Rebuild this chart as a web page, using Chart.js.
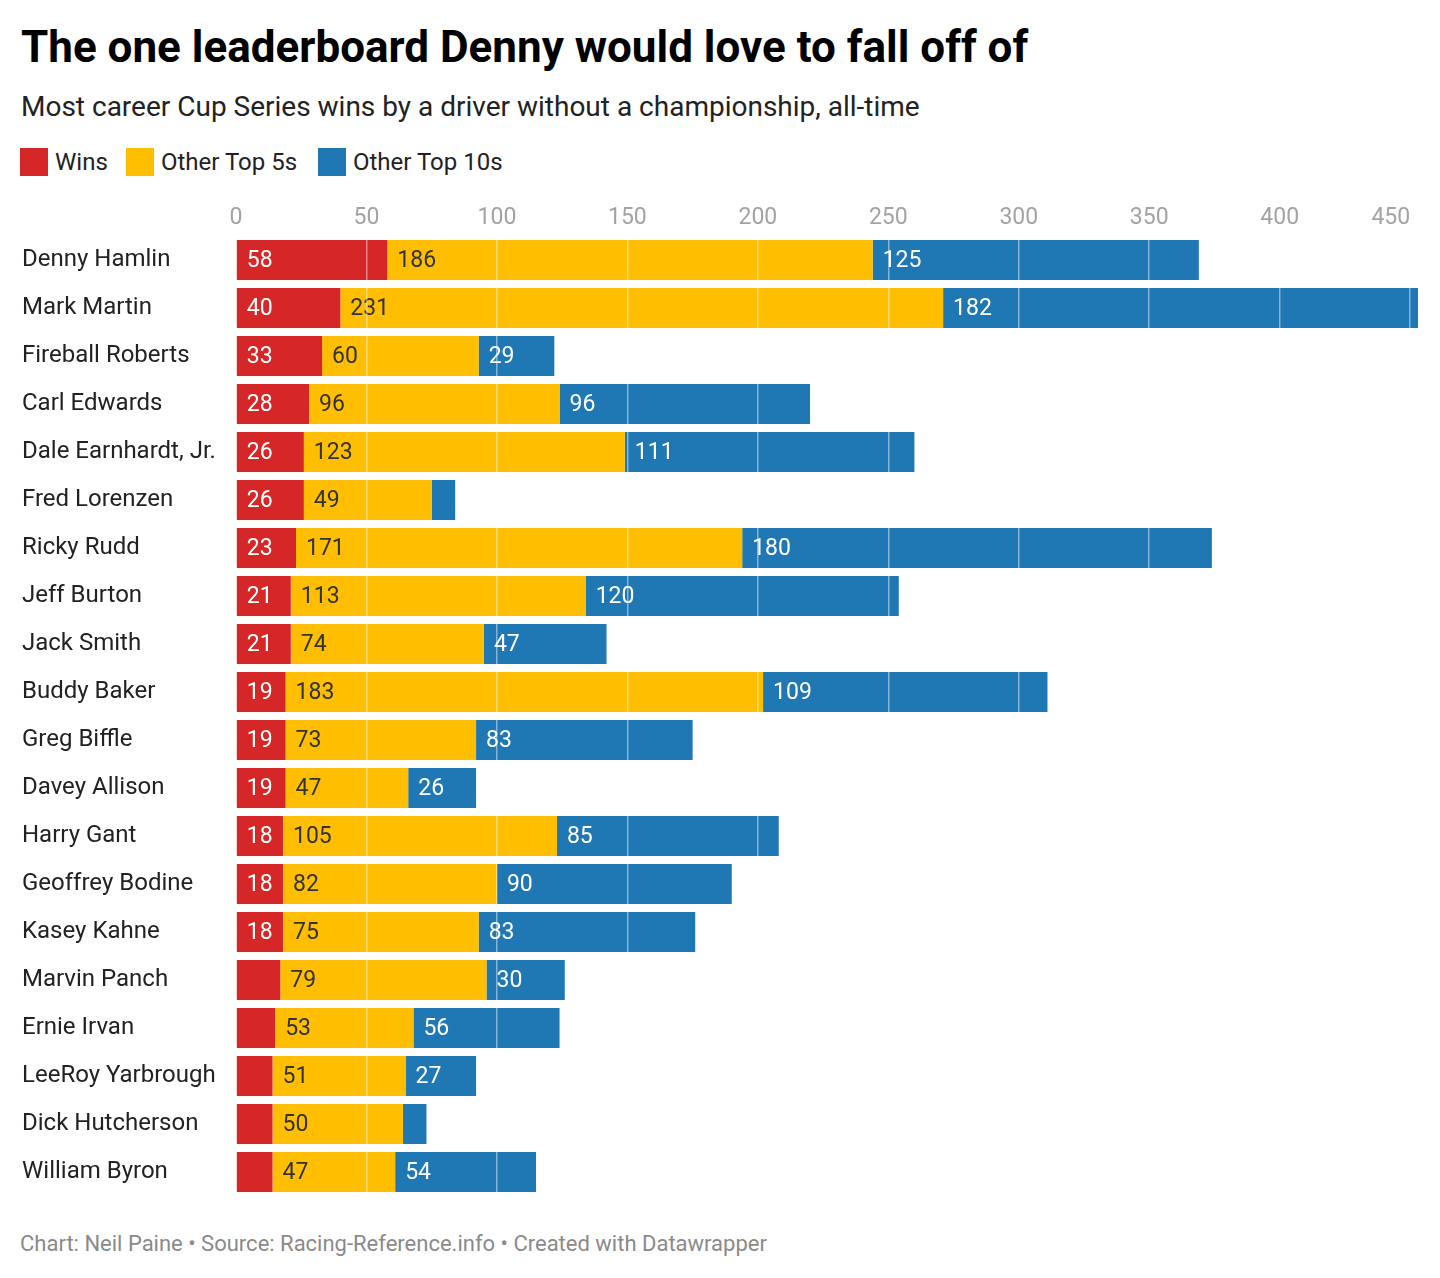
<!DOCTYPE html>
<html>
<head>
<meta charset="utf-8">
<script src="https://cdn.jsdelivr.net/npm/chart.js@4.4.1/dist/chart.umd.min.js"></script>
<style>
  html, body { margin: 0; padding: 0; background: #fff; }
  body { width: 1440px; height: 1278px; position: relative; overflow: hidden; font-family: Roboto, "Noto Sans", sans-serif; }
  .t { position: absolute; left: 21px; white-space: nowrap; line-height: 1; }
  #title { top: 25px; font-size: 44px; font-weight: 700; color: #000; }
  #subtitle { top: 93px; font-size: 28px; color: #222; }
  #legend { position: absolute; left: 20px; top: 148px; height: 28px; }
  .li { position: absolute; top: 0; height: 28px; }
  .sw { position: absolute; left: 0; top: 0; width: 28px; height: 28px; }
  .lt { position: absolute; left: 35px; top: 2px; font-size: 24px; line-height: 1; color: #222; white-space: nowrap; }
  #footer { top: 1233px; font-size: 22px; color: #8a8a8a; left: 20px; }
  #wrap { position: absolute; left: 0; top: 190px; width: 1440px; height: 1010px; }
</style>
</head>
<body>
<div id="title" class="t">The one leaderboard Denny would love to fall off of</div>
<div id="subtitle" class="t">Most career Cup Series wins by a driver without a championship, all-time</div>
<div id="legend"></div>
<div id="wrap"><canvas id="c"></canvas></div>
<div id="footer" class="t">Chart: Neil Paine • Source: Racing-Reference.info • Created with Datawrapper</div>
<script>
const drivers = ["Denny Hamlin","Mark Martin","Fireball Roberts","Carl Edwards","Dale Earnhardt, Jr.","Fred Lorenzen","Ricky Rudd","Jeff Burton","Jack Smith","Buddy Baker","Greg Biffle","Davey Allison","Harry Gant","Geoffrey Bodine","Kasey Kahne","Marvin Panch","Ernie Irvan","LeeRoy Yarbrough","Dick Hutcherson","William Byron"];
const wins      = [58, 40, 33, 28, 26, 26, 23, 21, 21, 19, 19, 19, 18, 18, 18, 17, 15, 14, 14, 14];
const otherTop5 = [186, 231, 60, 96, 123, 49, 171, 113, 74, 183, 73, 47, 105, 82, 75, 79, 53, 51, 50, 47];
const otherTop10= [125, 182, 29, 96, 111, 9, 180, 120, 47, 109, 83, 26, 85, 90, 83, 30, 56, 27, 9, 54];
const seriesNames = ["Wins", "Other Top 5s", "Other Top 10s"];
const seriesColors = ["#d62728", "#ffbf00", "#1f77b4"];
const labelColors = ["#ffffff", "#333333", "#ffffff"];
const tickStep = 50;

// legend
const legendX = [0, 106, 298];
const lg = document.getElementById('legend');
seriesNames.forEach((n, i) => {
  const d = document.createElement('div');
  d.className = 'li';
  d.style.left = legendX[i] + 'px';
  d.innerHTML = '<div class="sw" style="background:' + seriesColors[i] + '"></div><div class="lt">' + n + '</div>';
  lg.appendChild(d);
});

const totals = drivers.map((_, i) => wins[i] + otherTop5[i] + otherTop10[i]);
const xMax = Math.max(...totals);

const valueLabels = {
  id: 'valueLabels',
  afterDatasetsDraw(chart) {
    const ctx = chart.ctx;
    ctx.save();
    ctx.font = '23px Roboto, "Noto Sans", sans-serif';
    ctx.textBaseline = 'middle';
    ctx.textAlign = 'left';
    chart.data.datasets.forEach((ds, di) => {
      const meta = chart.getDatasetMeta(di);
      meta.data.forEach((el, i) => {
        const left = Math.min(el.base, el.x);
        const w = Math.abs(el.x - el.base);
        if (w < 46) return;
        ctx.fillStyle = labelColors[di];
        ctx.fillText(String(ds.data[i]), left + 10, el.y + 1);
      });
    });
    ctx.restore();
  }
};

const xTickLabels = {
  id: 'xTickLabels',
  afterDraw(chart) {
    const sc = chart.scales.x;
    const ctx = chart.ctx;
    ctx.save();
    ctx.font = '23px Roboto, "Noto Sans", sans-serif';
    ctx.fillStyle = '#a3a3a3';
    ctx.textBaseline = 'middle';
    const n = sc.ticks.length;
    sc.ticks.forEach((t, k) => {
      const px = sc.getPixelForValue(t.value);
      ctx.textAlign = (k === n - 1) ? 'right' : 'center';
      ctx.fillText(String(t.value), px, chart.chartArea.top - 18);
    });
    ctx.restore();
  }
};

new Chart(document.getElementById('c'), {
  type: 'bar',
  data: {
    labels: drivers,
    datasets: [
      { label: seriesNames[0], data: wins, backgroundColor: seriesColors[0] },
      { label: seriesNames[1], data: otherTop5, backgroundColor: seriesColors[1] },
      { label: seriesNames[2], data: otherTop10, backgroundColor: seriesColors[2] }
    ]
  },
  options: {
    indexAxis: 'y',
    responsive: true,
    maintainAspectRatio: false,
    animation: false,
    barPercentage: 40 / 48,
    categoryPercentage: 1,
    layout: { padding: { left: 22, right: 22, top: 0, bottom: 4 } },
    plugins: { legend: { display: false }, tooltip: { enabled: false }, title: { display: false } },
    scales: {
      x: {
        position: 'top',
        stacked: true,
        min: 0,
        max: xMax,
        afterBuildTicks(scale) {
          const ticks = [];
          for (let v = 0; v <= scale.max; v += tickStep) ticks.push({ value: v });
          scale.ticks = ticks;
        },
        afterFit(scale) { scale.height = 46; },
        ticks: { display: false, stepSize: tickStep },
        grid: { color: 'rgba(255,255,255,0.45)', lineWidth: 1.5, drawTicks: false, z: 1 },
        border: { display: false }
      },
      y: {
        stacked: true,
        afterFit(scale) { scale.width = 214; scale.paddingTop = 0; scale.paddingBottom = 0; },
        ticks: {
          crossAlign: 'far',
          padding: 0,
          color: '#222',
          font: { family: 'Roboto', size: 24 }
        },
        grid: { display: false, drawTicks: false },
        border: { display: false }
      }
    }
  },
  plugins: [valueLabels, xTickLabels]
});
</script>
</body>
</html>
